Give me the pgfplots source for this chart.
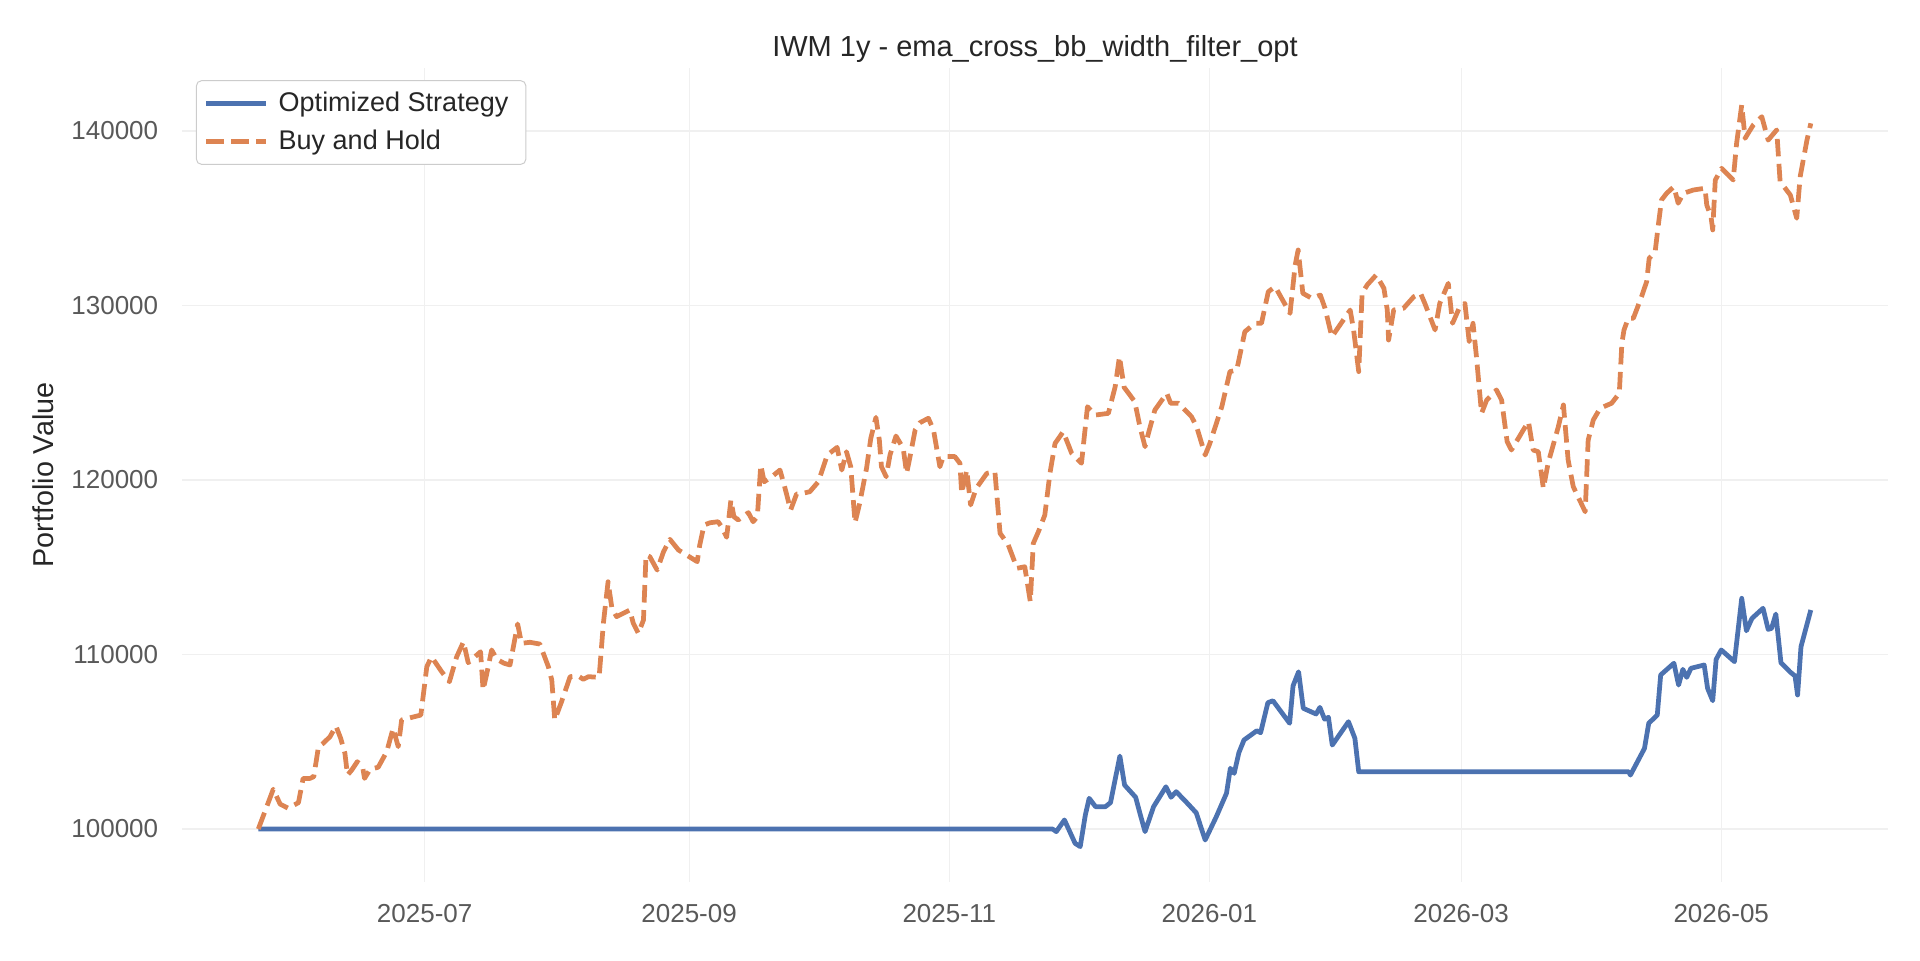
\documentclass[border=0pt]{standalone}
\usepackage{pgfplots}
\pgfplotsset{compat=1.18}
\usepackage{fontspec}
\setmainfont{Liberation Sans}
\definecolor{sbblue}{HTML}{4C72B0}
\definecolor{sborange}{HTML}{DD8452}
\definecolor{gridc}{HTML}{F0F0F0}
\definecolor{tickc}{HTML}{595959}
\definecolor{labc}{HTML}{262626}
\begin{document}
\begin{tikzpicture}
% page frame: 1920x960 px at 0.4pt per px
\path[use as bounding box] (-72.8pt,-31.2pt) rectangle (695.2pt,352.8pt);
\begin{axis}[
  at={(0,0)}, anchor=south west,
  scale only axis,
  width=682.4pt, height=325.6pt,
  xmin=-56.9, xmax=343.1,
  ymin=96963, ymax=143610,
  axis line style={draw=none},
  major tick length=0pt,
  grid=major,
  major grid style={color=gridc, line width=0.45pt},
  xtick={0,62,123,184,243,304},
  xticklabels={2025-07,2025-09,2025-11,2026-01,2026-03,2026-05},
  ytick={100000,110000,120000,130000,140000},
  yticklabels={100000,110000,120000,130000,140000},
  scaled y ticks=false,
  ticklabel style={font=\fontsize{10.4pt}{12pt}\selectfont, text=tickc},
  xticklabel style={yshift=-5.4pt},
  yticklabel style={xshift=-6pt},
  ylabel={Portfolio Value},
  ylabel style={at={(axis description cs:-0.0815,0.5)}, anchor=center,
    font=\fontsize{11.5pt}{14pt}\selectfont, text=labc},
  title={IWM 1y - ema\_cross\_bb\_width\_filter\_opt},
  title style={at={(axis description cs:0.5,1)}, anchor=base, yshift=-1.6pt,
    font=\fontsize{11.6pt}{14pt}\selectfont, text=labc},
  legend style={at={(axis description cs:0.0082,0.985)}, anchor=north west,
    draw=black!20, rounded corners=2pt, fill=white,
    font=\fontsize{10.8pt}{13pt}\selectfont, text=labc,
    row sep=1.8pt, inner xsep=3pt, inner ysep=2.5pt,
    nodes={inner xsep=4pt}},
  legend cell align=left,
  legend image code/.code={\draw[#1] (0pt,0pt) -- (24pt,0pt);},
]
\addplot[sbblue, line width=1.9pt, line join=round] coordinates {
(-39,100000) (147.2,100000) (148.1,99850) (150.0,100520) (152.5,99180)
(153.7,98990) (154.9,100800) (155.8,101760) (157.3,101280) (159.6,101280)
(160.8,101510) (163.0,104180) (164.1,102520) (166.7,101820) (167.7,100900)
(168.9,99850) (170.9,101280) (173.8,102420) (175.0,101820) (176.2,102140)
(178.5,101560) (180.9,100930) (183.0,99370) (185.6,100700) (188.0,102050)
(188.9,103480) (189.8,103190) (190.9,104370) (192.1,105100) (195.1,105630)
(196.0,105520) (197.7,107240) (198.9,107350) (202.8,106060) (203.6,108200)
(204.9,109010) (206.0,106920) (209.0,106590) (209.9,106970) (211.0,106290)
(211.9,106400) (212.8,104810) (216.6,106150) (218.1,105200) (219.0,103280)
(282.3,103280) (282.7,103090) (286.0,104620) (287.0,106060) (289.0,106530)
(289.8,108830) (292.9,109500) (294.0,108250) (295.0,109150) (295.9,108690)
(296.9,109210) (300.0,109400) (300.8,108060) (302.0,107350) (302.8,109720)
(304.0,110260) (307.1,109590) (308.8,113220) (309.9,111360) (311.2,112070)
(313.8,112650) (315.0,111440) (315.8,111500) (316.8,112320) (318.0,109530)
(320.1,109010) (321.3,108770) (321.9,107680) (322.7,110450) (325.0,112550)
};
\addlegendentry{Optimized Strategy}
\addplot[sborange, line width=1.9pt, line join=round, dash pattern=on 7pt off 3pt] coordinates {
(-39,100000) (-35.5,102280) (-33.9,101430) (-32,101190) (-29.6,101510)
(-28.5,102900) (-26.9,102900) (-26,103000) (-24.9,104720) (-23.8,104910)
(-22.2,105290) (-20.8,105900) (-19.7,105200) (-18.7,104340) (-18.1,103090)
(-17.1,103380) (-15.8,103860) (-14.5,103480) (-14.1,102900) (-12.8,103420)
(-10.9,103540) (-8.9,104430) (-7.4,105770) (-6.2,104720) (-5.4,106250)
(-3.0,106400) (-0.9,106530) (0.5,109300) (1.6,109870) (4.0,109010)
(5.8,108440) (7.5,109870) (9.1,110730) (10.2,109530) (13.1,110160)
(13.7,107970) (14.5,108830) (15.7,110260) (16.9,109730) (18.6,109500)
(20.0,109400) (21.8,111750) (22.7,110640) (24.7,110700) (27.0,110600)
(29.0,109300) (29.8,108540) (30.5,106250) (32.1,107300) (34.1,108730)
(36.0,108770) (37.2,108580) (38.4,108730) (40.9,108690) (41.9,111790)
(43.0,114170) (43.9,112650) (45.0,112170) (48.1,112550) (48.9,111800)
(50.1,111210) (51.3,111980) (51.9,115700) (52.8,115600) (54.5,114840)
(56.0,115890) (57.5,116600) (59.5,115990) (61.8,115640) (63.9,115320)
(64.5,116280) (65.5,117420) (66.9,117550) (68.8,117610) (69.6,117320)
(70.8,116720) (71.8,118850) (72.5,117900) (73.5,117710) (75.9,118130)
(77.0,117610) (78.0,117900) (78.8,120860) (79.6,119900) (81.4,120190)
(83.3,120570) (84.3,119710) (85.8,118280) (87.2,119200) (88.0,119200)
(90.3,119330) (92.3,119900) (94.4,121430) (96.7,121870) (97.8,120570)
(98.9,121620) (99.9,120760) (100.9,117550) (102.0,118670) (103.6,120670)
(104.6,122390) (105.8,123590) (106.6,122290) (107.1,120760) (108.2,120190)
(109.1,121430) (110.5,122520) (112.2,121820) (113.0,120380) (113.8,121340)
(115.0,122870) (116.1,123280) (118.1,123540) (119.3,122870) (120.8,120760)
(121.6,121340) (124.3,121340) (125.5,120960) (125.9,119240) (127.1,120570)
(128.0,118570) (129.3,119520) (131.8,120380) (133.7,120480) (134.9,116950)
(136.8,116300) (138.9,114940) (140.7,115030) (142.0,113030) (142.7,116370)
(143.9,117040) (145.4,117990) (146.6,120380) (147.8,122100) (148.9,122480)
(149.7,122770) (151.7,121530) (154.0,120960) (155.4,124200) (157.2,123720)
(160.3,123820) (161.9,125350) (162.9,127070) (164.0,125310) (166.5,124490)
(167.7,123050) (168.9,121910) (169.7,122680) (171.2,124010) (174.0,124970)
(174.9,124400) (176.7,124400) (179.8,123630) (181.0,123050) (183.0,121430)
(184.1,122100) (186.9,124200) (188.8,126210) (190.4,126300) (192.3,128500)
(194.7,128980) (196.2,128980) (197.8,130790) (199.4,131080) (202.9,129550)
(204.1,132320) (204.8,133180) (205.9,130700) (208.0,130410) (210.0,130600)
(211.1,129840) (212.7,128210) (217.0,129740) (217.8,128600) (219.0,126210)
(219.8,130700) (221.0,131180) (223.1,131750) (224.9,130990) (225.7,129740)
(226.0,128020) (227.2,129740) (229.5,129840) (231.9,130500) (233.5,130700)
(234.5,130120) (235.7,129360) (236.9,128600) (238.0,130120) (240.0,131270)
(241.0,128980) (242.7,129930) (243.9,130120) (244.9,127930) (245.8,128980)
(246.6,127070) (247.8,123820) (249.0,124580) (251.3,125160) (252.5,124580)
(253.8,122200) (254.8,121720) (257.6,122870) (258.8,123340) (259.9,121720)
(261.1,121620) (262.3,119520) (263.4,120960) (265.8,123050) (267.0,124300)
(268.1,121150) (269.3,119620) (272.1,118180) (272.8,122290) (274.0,123440)
(275.6,124110) (278.3,124400) (280.1,124970) (280.7,127840) (281.2,128600)
(282.2,129270) (283.4,129270) (285.3,130500) (286.5,131360) (287.1,132700)
(288.5,133080) (289.2,134520) (290.0,136050) (291.2,136430) (292.9,136810)
(293.9,135860) (295.1,136430) (297.5,136620) (300.2,136720) (300.6,135760)
(301.6,135090) (302.0,134330) (302.6,137190) (304.1,137860) (305.7,137470)
(306.8,137190) (307.6,139290) (308.8,141490) (309.6,139580) (310.3,139870)
(311.5,140340) (313.5,140820) (315.0,139480) (317.0,140060) (317.8,137100)
(320.2,136330) (321.7,135000) (322.5,137380) (324.1,139480) (325.0,140440)
};
\addlegendentry{Buy and Hold}
\end{axis}
\end{tikzpicture}
\end{document}
